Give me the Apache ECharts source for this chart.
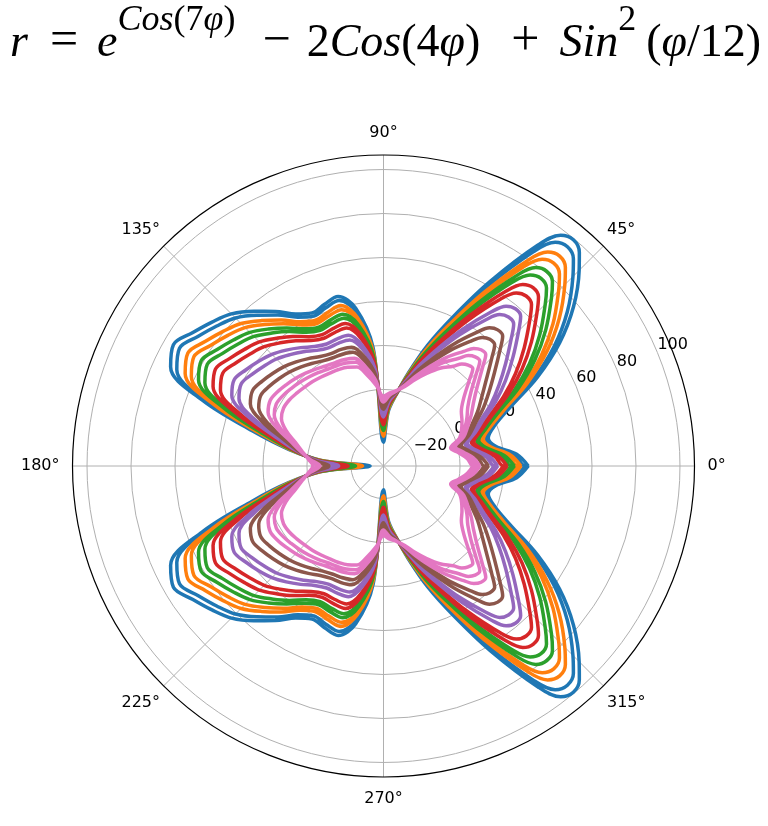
<!DOCTYPE html>
<html>
<head>
<meta charset="utf-8">
<script src="https://cdn.jsdelivr.net/npm/echarts@6/dist/echarts.min.js"></script>
<style>
html,body{margin:0;padding:0;background:#fff;}
#chart{width:768px;height:826px;}
</style>
</head>
<body>
<div id="chart"></div>
<script>
// Angles (degrees) at which radii were read, upper half 0..180 (reference is mirror-symmetric about 0°-180°)
const PHI = [0,5,10,15,20,25,30,35,40,45,47.5,50,52.5,55,60,65,70,75,80,85,90,95,100,105,110,115,120,125,130,135,140,145,150,155,160,165,170,175,180];

const RADIAL_TICKS = [-20, 0, 20, 40, 60, 80, 100];
const ANGLE_TICKS = [0, 45, 90, 135, 180, 225, 270, 315];
const COLORS = ['#1f77b4','#ff7f0e','#2ca02c','#d62728','#9467bd','#8c564b','#e377c2'];

// radii, loops per colour
const blue1 = [31,26,17,14.5,19,29,46,63,78,91,97,99.5,97.5,88,62,40,23.5,9,-2,-10,-24,19,38,45,43.5,42,45,51,57,63,67,71,75.5,72,53,27,9,-7,-28.7];
const blue2 = [29.6,24.7,16.0,13.5,18.0,27.6,43.8,59.9,74.3,87.0,93.0,95.3,93.4,84.2,59.5,38.4,22.6,8.6,-1.9,-9.5,-22.8,18.0,36.3,43.1,41.8,40.4,43.3,49.0,54.7,60.4,64.2,68.0,72.3,68.9,50.7,25.9,8.6,-6.6,-27.2];
const orange1 = [27.7,23.1,14.8,12.2,16.8,25.8,40.8,55.9,69.5,81.8,87.6,89.8,87.8,79.2,56.1,36.3,21.3,8.2,-1.7,-8.9,-21.3,16.8,33.9,40.7,39.5,38.3,40.9,46.2,51.5,56.8,60.4,64.0,67.9,64.7,47.7,24.3,8.2,-6.2,-25.3];
const orange2 = [26.3,21.8,13.8,11.2,15.8,24.4,38.6,52.8,65.8,77.8,83.6,85.6,83.7,75.4,53.5,34.7,20.4,7.8,-1.6,-8.4,-20.1,15.8,32.2,38.8,37.8,36.7,39.2,44.2,49.2,54.2,57.6,61.0,64.7,61.6,45.4,23.2,7.8,-5.8,-23.8];
const green1 = [24.7,20.3,12.7,10.0,14.7,22.8,36.0,49.2,61.5,73.2,78.9,80.7,78.9,71.0,50.5,32.8,19.3,7.4,-1.5,-7.8,-18.7,14.7,30.2,36.6,35.8,34.8,37.2,41.8,46.5,51.1,54.3,57.5,60.9,58.0,42.7,21.9,7.4,-5.4,-22.1];
const green2 = [23.2,19.1,11.7,9.1,13.7,21.4,33.8,46.2,57.9,69.2,74.9,76.6,74.7,67.2,48.0,31.3,18.4,7.0,-1.3,-7.4,-17.6,13.7,28.4,34.8,34.1,33.3,35.4,39.8,44.1,48.5,51.5,54.5,57.7,54.8,40.5,20.7,7.0,-5.0,-20.7];
const red1 = [21.4,17.4,10.4,7.7,12.4,19.6,30.8,42.1,53.0,63.9,69.5,71.0,69.2,62.2,44.6,29.1,17.1,6.5,-1.2,-6.7,-16.0,12.4,26.1,32.3,31.8,31.1,33.1,37.1,41.0,45.0,47.7,50.5,53.4,50.7,37.4,19.2,6.5,-4.5,-18.7];
const red2 = [19.7,15.9,9.3,6.6,11.3,18.0,28.2,38.5,48.7,59.3,64.8,66.1,64.4,57.8,41.6,27.3,16.1,6.1,-1.0,-6.2,-14.6,11.3,24.1,30.1,29.8,29.3,31.1,34.7,38.3,41.9,44.4,47.0,49.6,47.0,34.8,17.9,6.1,-4.1,-17.0];
const purple1 = [17.1,13.6,7.6,4.8,9.6,15.4,24.2,32.9,42.0,52.1,57.5,58.5,56.8,50.8,36.9,24.4,14.4,5.5,-0.8,-5.3,-12.5,9.6,20.9,26.7,26.7,26.4,27.9,30.9,34.0,37.0,39.3,41.5,43.6,41.3,30.6,15.8,5.5,-3.5,-14.4];
const purple2 = [15.5,12.1,6.4,3.6,8.4,13.8,21.6,29.3,37.7,47.4,52.8,53.6,52.0,46.4,34.0,22.5,13.3,5.0,-0.7,-4.7,-11.1,8.4,18.9,24.5,24.7,24.5,25.9,28.6,31.3,34.0,36.0,38.0,39.9,37.7,27.9,14.5,5.0,-3.0,-12.7];
const brown1 = [12.9,9.8,4.7,1.8,6.7,11.3,17.5,23.7,31.0,40.2,45.4,46.0,44.4,39.5,29.3,19.6,11.6,4.4,-0.5,-3.8,-9.0,6.7,15.7,21.1,21.6,21.6,22.7,24.8,27.0,29.1,30.8,32.5,33.9,32.0,23.7,12.4,4.4,-2.4,-10.0];
const brown2 = [11.0,8.2,3.4,0.5,5.4,9.5,14.6,19.7,26.2,34.9,40.0,40.4,38.9,34.5,25.9,17.5,10.3,3.9,-0.3,-3.2,-7.4,5.4,13.4,18.7,19.3,19.5,20.4,22.1,23.9,25.6,27.1,28.5,29.6,27.8,20.7,10.9,3.9,-1.9,-8.0];
const pink0 = [8.9,6.3,2.0,-1.0,4.0,7.4,11.2,15.1,20.7,29.0,34.0,34.2,32.6,28.8,22.1,15.1,8.9,3.4,-0.1,-2.5,-5.7,4.0,10.7,15.9,16.7,17.1,17.7,19.0,20.3,21.6,22.8,24.0,24.7,23.1,17.3,9.1,3.4,-1.4,-5.9];
const pink1 = [7.5,5,1,-2,3,6,9,12,17,25,30,30,28.5,25,19.5,13.5,8,3,0,-2,-4.5,3,9,14,15,15.5,16,17,18,19,20,21,21.5,20,15,8,3,-1,-4.4];
const pink2 = [5.9,3.5,-0.1,-3.2,1.9,4.4,6.4,8.4,12.7,20.4,25.3,25.1,23.7,20.6,16.5,11.6,6.9,2.6,0.1,-1.4,-3.1,1.9,7.0,11.8,13.0,13.6,14.0,14.6,15.3,15.9,16.7,17.5,17.7,16.4,12.3,6.7,2.6,-0.6,-2.7];

const LOOPS = [[blue1,blue2],[orange1,orange2],[green1,green2],[red1,red2],[purple1,purple2],[brown1,brown2],[pink0,pink1,pink2]];

function fullLoop(upper){
  const pts = upper.map((r,i)=>[r, PHI[i]]);
  for(let i = PHI.length-2; i>=0; i--) pts.push([upper[i], 360-PHI[i]]);
  return pts;
}

const series = LOOPS.map((loops, k) => ({
  type: 'line',
  coordinateSystem: 'polar',
  polarIndex: 0,
  data: [].concat(...loops.map(fullLoop)),
  showSymbol: false,
  smooth: 0.35,
  lineStyle: {color: COLORS[k], width: 3.5},
  itemStyle: {color: COLORS[k]},
  z: 3 + k,
  silent: true
}));

const fmtR = v => (v < 0 ? '\u2212' + Math.abs(v) : String(v));
const padMap = {0:[0,0,0,8],45:[0,0,5,0],90:[0,0,9,0],135:[0,0,5,0],180:[0,8,0,0],225:[5,0,0,0],270:[9,0,0,0],315:[5,0,0,0]};
const rich = {};
ANGLE_TICKS.forEach(a => { rich['a'+a] = {fontFamily:'DejaVu Sans', fontSize:16, color:'#000', padding: padMap[a]}; });

const FONT = 'DejaVu Sans';
const SERIF = 'Liberation Serif';
// base tokens sit at the bottom of a tall line, superscripts at its top
const base = {fontFamily: SERIF, fontSize: 46, lineHeight: 67, fontWeight: 'normal', color: '#000', verticalAlign: 'bottom'};
const sup = {fontFamily: SERIF, fontSize: 36, lineHeight: 36, fontWeight: 'normal', color: '#000', verticalAlign: 'top', padding: [3,0,0,0]};
const op = Object.assign({}, base, {fontSize: 50});
const titleRich = {
  it: Object.assign({}, base, {fontStyle: 'italic'}),
  rm: Object.assign({}, base),
  rmL: Object.assign({}, base, {padding: [0,0,0,10]}),
  opEq: Object.assign({}, op, {padding: [0,19,0,22]}),
  opMi: Object.assign({}, op, {padding: [0,16,0,27]}),
  opPl: Object.assign({}, op, {padding: [0,20,0,31]}),
  sit: Object.assign({}, sup, {fontStyle: 'italic'}),
  srm: Object.assign({}, sup)
};

const option = {
  animation: false,
  backgroundColor: '#fff',
  title: {
    text: '{it|r}{opEq|=}{it|e}{sit|Cos}{srm|(7}{sit|φ}{srm|)}{opMi|−}{rm|2}{it|Cos}{rm|(4}{it|φ}{rm|)}{opPl|+}{it|Sin}{srm|2}{rmL|(}{it|φ}{rm|/12)}',
    left: 10,
    top: 0,
    padding: 0,
    textStyle: {fontWeight: 'normal', rich: titleRich}
  },
  polar: [
    {center: [383.5, 466], radius: 311},
    {center: [383.5, 466], radius: 311}
  ],
  angleAxis: [
    {
      polarIndex: 0, type: 'value', min: 0, max: 360, interval: 45,
      startAngle: 0, clockwise: false,
      axisLine: {show: true, lineStyle: {color: '#000', width: 1.2}},
      axisTick: {show: false},
      axisLabel: {
        margin: 5, color: '#000', fontFamily: FONT, fontSize: 16,
        formatter: v => (v >= 360 ? '' : '{a' + v + '|' + v + '°}'),
        rich: rich
      },
      splitLine: {show: true, lineStyle: {color: '#b0b0b0', width: 1}}
    },
    {
      polarIndex: 1, type: 'value', min: 0, max: 360, startAngle: 22.5, clockwise: false,
      axisLine: {show: false}, axisTick: {show: false}, axisLabel: {show: false}, splitLine: {show: false}
    }
  ],
  radiusAxis: [
    {
      polarIndex: 0, type: 'value', min: -34.8, max: 106.6,
      axisLine: {show: false},
      axisTick: {show: false, customValues: RADIAL_TICKS},
      axisLabel: {show: false, customValues: RADIAL_TICKS},
      splitLine: {show: true, lineStyle: {color: '#b0b0b0', width: 1}}
    },
    {
      polarIndex: 1, type: 'value', min: -34.8, max: 106.6,
      axisLine: {show: false},
      axisTick: {show: false, customValues: RADIAL_TICKS},
      axisLabel: {show: true, customValues: RADIAL_TICKS, margin: 0, align: 'left', verticalAlign: 'bottom',
        color: '#000', fontFamily: FONT, fontSize: 16, formatter: fmtR},
      splitLine: {show: false}
    }
  ],
  series: series
};

const chart = echarts.init(document.getElementById('chart'), null, {renderer: 'canvas'});
chart.setOption(option);
</script>
</body>
</html>
